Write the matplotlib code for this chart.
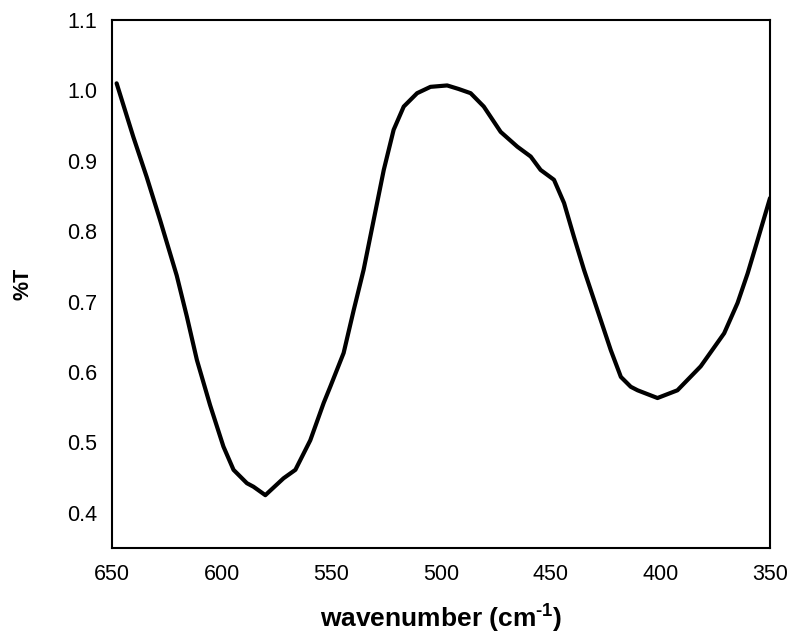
import matplotlib
matplotlib.use("Agg")
import matplotlib.pyplot as plt

plt.rcParams['font.family'] = ['Liberation Sans', 'DejaVu Sans']
plt.rcParams['mathtext.fontset'] = 'custom'
plt.rcParams['mathtext.bf'] = 'Liberation Sans:bold'
plt.rcParams['mathtext.rm'] = 'Liberation Sans'

# spectrum
wavenumber = [647.9, 640.3, 634.2, 628.1, 620.5, 615.9, 611.3, 605.3, 599.2,
              594.6, 588.5, 585.5, 580.1, 571.8, 566.4, 559.6, 553.5, 550.5,
              544.4, 539.8, 535.3, 530.7, 526.1, 521.6, 517.0, 510.9, 504.8,
              497.2, 492.0, 486.5, 480.5, 472.8, 465.2, 459.1, 454.6, 448.5,
              443.9, 439.4, 434.8, 428.7, 422.6, 418.0, 413.5, 410.4, 401.3,
              392.2, 381.6, 370.9, 364.8, 360.2, 355.6, 350.0]
transmit = [1.010, 0.934, 0.877, 0.816, 0.737, 0.679, 0.617, 0.553, 0.494,
            0.461, 0.442, 0.437, 0.425, 0.449, 0.461, 0.503, 0.556, 0.579,
            0.627, 0.688, 0.745, 0.816, 0.887, 0.944, 0.977, 0.996, 1.005,
            1.007, 1.002, 0.996, 0.977, 0.941, 0.920, 0.906, 0.887, 0.873,
            0.840, 0.792, 0.745, 0.688, 0.631, 0.593, 0.579, 0.574, 0.563,
            0.574, 0.608, 0.655, 0.698, 0.740, 0.788, 0.847]

xticks = [650, 600, 550, 500, 450, 400, 350]
yticks = [0.4, 0.5, 0.6, 0.7, 0.8, 0.9, 1.0, 1.1]

fig = plt.figure(figsize=(7.9, 6.36), dpi=100)
ax = fig.add_axes([0.1418, 0.1384, 0.8329, 0.8302])

ax.plot(wavenumber, transmit, color='black', lw=3,
        solid_joinstyle='round', solid_capstyle='round')

ax.set_xlim(650, 350)
ax.set_ylim(0.35, 1.1)
ax.set_xticks(xticks)
ax.set_yticks(yticks)
ax.set_yticklabels(["%.1f" % v for v in yticks])
ax.tick_params(length=0, labelsize=15.5)
ax.tick_params(axis='x', pad=11.5)
ax.tick_params(axis='y', pad=10.5)
for s in ax.spines.values():
    s.set_linewidth(1.5)

ax.set_xlabel('wavenumber (cm$^{\\mathbf{\u2010}\\mathbf{1}}$)', fontsize=19, fontweight='bold')
ax.xaxis.set_label_coords(0.5, -0.100)
ax.set_ylabel('%T', fontsize=15.5, fontweight='bold')
ax.yaxis.set_label_coords(-0.119, 0.5)

fig.savefig('out.png', dpi=100)
